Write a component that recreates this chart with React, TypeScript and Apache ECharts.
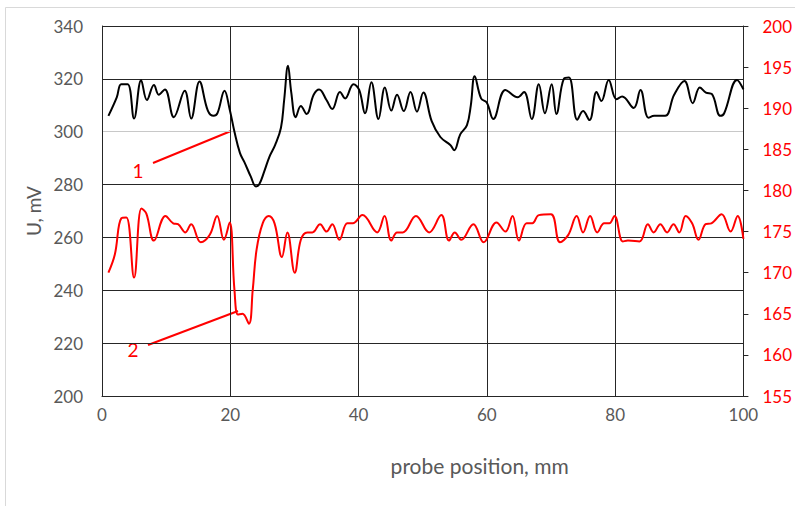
import React, { useEffect, useRef } from "react";
import * as echarts from "echarts";

// Curve 1 (black, left axis, U in mV)
const blackX = [1.0, 2.3, 3.0, 4.0, 5.0, 6.1, 7.0, 8.1, 8.85, 9.8, 11.2, 12.9, 13.9, 15.2, 16.5, 17.4, 18.0, 19.1, 19.9, 20.65, 21.5, 22.2, 23.2, 24.0, 24.5, 25.3, 26.1, 27.0, 27.9, 28.4, 29.0, 29.5, 30.2, 31.0, 31.9, 33.0, 33.85, 35.0, 35.9, 37.1, 37.9, 39.2, 40.1, 41.0, 42.0, 43.1, 44.1, 45.1, 46.0, 47.05, 48.1, 49.1, 50.1, 51.4, 52.75, 54.3, 54.9, 55.85, 56.9, 57.5, 58.1, 59.1, 60.0, 61.0, 62.9, 64.8, 65.8, 67.0, 68.1, 69.05, 70.1, 70.85, 72.0, 72.8, 74.1, 75.0, 76.0, 77.1, 77.85, 79.0, 80.2, 81.1, 82.9, 83.95, 85.2, 86.1, 87.8, 89.2, 90.8, 92.1, 93.2, 94.15, 95.1, 96.4, 97.0, 99.0, 100.0];
const blackU = [306, 313, 318, 318, 305, 319.5, 312, 317.7, 314, 316, 305.5, 315.5, 305, 319, 308, 306, 307, 315.5, 308.5, 300, 292, 288.5, 283, 279.3, 280, 285, 290.5, 295, 301.5, 312, 325, 315, 305.5, 309.7, 306.7, 314, 316, 312, 308.6, 315, 312.6, 318, 315.8, 307, 318.7, 304.8, 316.7, 308, 314, 307.8, 315, 307.6, 314.8, 304, 298, 295, 293, 299, 302.5, 310, 321, 312.6, 311, 304.8, 315.8, 313, 315, 304.8, 318, 307, 318, 306.7, 320, 320.5, 304.5, 307.8, 304.4, 315, 311.6, 319.6, 312.3, 313.3, 309, 315.8, 305.3, 306, 306, 314, 319.2, 310.8, 316.7, 314.8, 314.2, 306, 307, 319.6, 316];

// Curve 2 (red, right axis)
const redX = [1.0, 2.0, 3.0, 3.8, 5.0, 6.15, 6.9, 8.1, 9.9, 11.1, 11.85, 13.0, 13.9, 15.4, 16.8, 17.95, 19.0, 19.9, 20.65, 21.2, 21.9, 22.9, 23.5, 24.1, 25.05, 26.0, 26.9, 28.05, 28.9, 30.05, 31.0, 32.0, 32.8, 34.0, 35.0, 35.9, 37.0, 38.25, 39.1, 40.6, 42.9, 44.05, 45.1, 46.0, 46.9, 48.95, 51.0, 52.9, 54.1, 55.0, 56.0, 57.9, 59.5, 61.5, 62.9, 64.0, 65.0, 66.2, 67.1, 68.1, 70.0, 71.4, 72.7, 74.0, 75.0, 76.1, 77.2, 78.3, 79.1, 79.9, 81.2, 82.0, 83.8, 85.1, 86.0, 87.05, 88.1, 89.1, 90.0, 91.0, 92.0, 93.0, 94.1, 95.0, 96.6, 98.0, 99.1, 100.0];
const redV = [170, 172.2, 176.6, 176.7, 169.4, 177.8, 177.2, 173.9, 176.9, 176, 175.9, 174.9, 175.9, 173.7, 174.6, 176.9, 174.0, 176.1, 167.9, 164.9, 165, 163.8, 167.9, 172.8, 176, 176.9, 176, 171.9, 174.9, 170, 174, 174.9, 174.9, 175.9, 175, 175.9, 174, 176, 176, 177, 174.9, 176.9, 173.9, 174.9, 174.9, 176.9, 174.9, 177, 173.9, 174.9, 174, 175.9, 173.7, 176.1, 175, 176.9, 173.9, 176, 176, 177, 177.1, 173.7, 174.6, 176.9, 174.9, 176.9, 174.9, 176, 176, 176.9, 173.8, 173.9, 173.8, 175.9, 174.9, 175.9, 174.9, 175.9, 174.9, 176.9, 176, 174, 175.9, 176, 177.1, 175, 176.9, 174.1];

const xTicks = { min: 0, max: 100, interval: 20 };
const leftTicks = { min: 200, max: 340, interval: 20 };
const rightTicks = { min: 155, max: 200, interval: 5 };

const xName = "probe position, mm";
const yName = "U, mV";
const FONT = "Lato";

export default function App() {
  const ref = useRef<HTMLDivElement>(null);
  useEffect(() => {
    if (!ref.current) return;
    const chart = echarts.init(ref.current, null, { renderer: "svg" });
    const dark = "#262626";
    chart.setOption({
      animation: false,
      backgroundColor: "#ffffff",
      grid: { left: 102, right: 49, top: 26, bottom: 110, containLabel: false },
      xAxis: {
        type: "value",
        ...xTicks,
        axisLine: { show: true, lineStyle: { color: dark, width: 1 } },
        axisTick: { show: false },
        splitLine: { show: true, lineStyle: { color: dark, width: 1 } },
        axisLabel: { color: "#595959", fontSize: 17, fontFamily: FONT, margin: 10 },
        name: xName,
        nameLocation: "middle",
        nameGap: 59,
        nameTextStyle: { color: "#595959", fontSize: 21, fontFamily: FONT, padding: [0, 0, 0, 114] },
      },
      yAxis: [
        {
          type: "value",
          ...leftTicks,
          position: "left",
          axisLine: { show: true, lineStyle: { color: dark, width: 1 } },
          axisTick: { show: false },
          splitLine: {
            show: true,
            lineStyle: {
              color: [dark, dark, dark, dark, dark, "#c8c8c8", dark, dark],
              width: 1,
            },
          },
          axisLabel: { color: "#595959", fontSize: 17, fontFamily: FONT, margin: 19 },
          name: yName,
          nameLocation: "middle",
          nameRotate: 90,
          nameGap: 53,
          nameTextStyle: { color: "#595959", fontSize: 19, fontFamily: FONT },
        },
        {
          type: "value",
          ...rightTicks,
          position: "right",
          axisLine: { show: true, lineStyle: { color: dark, width: 1 } },
          axisTick: { show: true, inside: false, length: 5, lineStyle: { color: dark } },
          splitLine: { show: false },
          axisLabel: { color: "#ff0000", fontSize: 17, fontFamily: FONT, margin: 19 },
        },
      ],
      series: [
        {
          type: "line",
          yAxisIndex: 0,
          data: blackX.map((x, i) => [x, blackU[i]]),
          showSymbol: false,
          smooth: 0.4,
          lineStyle: { color: "#000000", width: 2 },
          silent: true,
        },
        {
          type: "line",
          yAxisIndex: 1,
          data: redX.map((x, i) => [x, redV[i]]),
          showSymbol: false,
          smooth: 0.4,
          lineStyle: { color: "#ff0000", width: 2 },
          silent: true,
        },
      ],
      graphic: [
        {
          type: "rect",
          shape: { x: 5.5, y: 7.5, width: 820, height: 520 },
          style: { fill: "none", stroke: "#d9d9d9", lineWidth: 1 },
          silent: true,
          z: -1,
        },
        {
          type: "line",
          shape: { x1: 153, y1: 163, x2: 231, y2: 131 },
          style: { stroke: "#ff0000", lineWidth: 2 },
        },
        {
          type: "text",
          x: 138,
          y: 170,
          style: { text: "1", fill: "#ff0000", fontSize: 19, fontFamily: FONT, align: "center", verticalAlign: "middle" },
        },
        {
          type: "line",
          shape: { x1: 148, y1: 345, x2: 238, y2: 311 },
          style: { stroke: "#ff0000", lineWidth: 2 },
        },
        {
          type: "text",
          x: 133,
          y: 349,
          style: { text: "2", fill: "#ff0000", fontSize: 19, fontFamily: FONT, align: "center", verticalAlign: "middle" },
        },
      ],
    });
    return () => chart.dispose();
  }, []);
  return (
    <div
      ref={ref}
      style={{ position: "fixed", left: 0, top: 0, width: 795, height: 506 }}
    />
  );
}
